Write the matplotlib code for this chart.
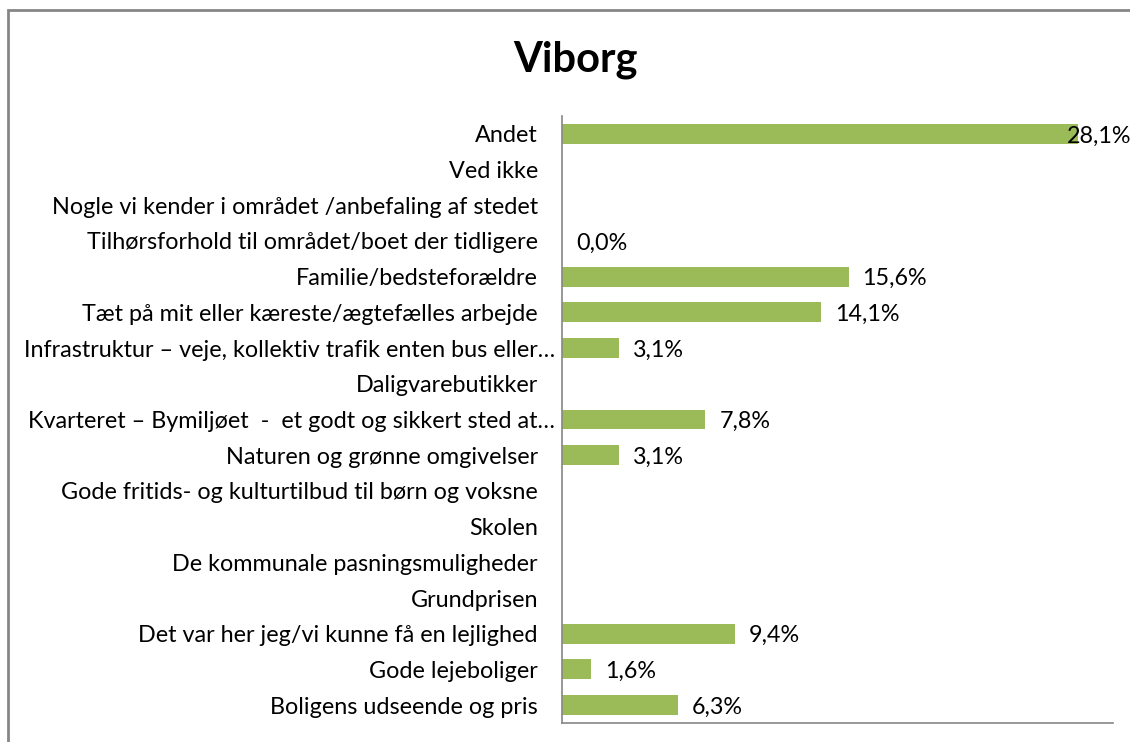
import matplotlib
matplotlib.use("Agg")
import matplotlib.pyplot as plt
from matplotlib.patches import Rectangle

plt.rcParams['font.family'] = ['Lato', 'DejaVu Sans']

categories = [
    "Andet",
    "Ved ikke",
    "Nogle vi kender i området /anbefaling af stedet",
    "Tilhørsforhold til området/boet der tidligere",
    "Familie/bedsteforældre",
    "Tæt på mit eller kæreste/ægtefælles arbejde",
    "Infrastruktur – veje, kollektiv trafik enten bus eller…",
    "Daligvarebutikker",
    "Kvarteret – Bymiljøet  -  et godt og sikkert sted at…",
    "Naturen og grønne omgivelser",
    "Gode fritids- og kulturtilbud til børn og voksne",
    "Skolen",
    "De kommunale pasningsmuligheder",
    "Grundprisen",
    "Det var her jeg/vi kunne få en lejlighed",
    "Gode lejeboliger",
    "Boligens udseende og pris",
]
values = [28.1, None, None, 0.0, 15.6, 14.1, 3.1, None, 7.8, 3.1,
          None, None, None, None, 9.4, 1.6, 6.3]

green = "#9BBB59"

fig = plt.figure(figsize=(11.30, 7.42), dpi=100)
ax_w = 1113 - 562
ax = fig.add_axes([562/1130, 1-723/742, ax_w/1130, (723-116)/742])

ypos = list(range(len(categories)))
for y, v in zip(ypos, values):
    if v is None:
        continue
    ax.barh(y, v, height=0.56, color=green, edgecolor="none")
    txt = f"{v:.1f}%".replace(".", ",")
    off = 14 if v < 27 else -11
    ax.annotate(txt, (v, y), xytext=(off, 0), textcoords="offset pixels",
                ha="left", va="center_baseline", fontsize=16.8, color="black",
                annotation_clip=False)

# category labels; the truncated ones sit closer to the axis like in Excel
for y, c in zip(ypos, categories):
    gap = 7 if c.endswith("…") else 24
    ax.text(-gap/ax_w, y, c, transform=ax.get_yaxis_transform(),
            ha="right", va="center_baseline", fontsize=16.8, color="black")

ax.set_xlim(0, 30)
ax.set_ylim(len(categories) - 0.5, -0.5)
ax.set_yticks([])
ax.set_xticks([])
for s in ["top", "right"]:
    ax.spines[s].set_visible(False)
for s in ["left", "bottom"]:
    ax.spines[s].set_color("#868686")
    ax.spines[s].set_linewidth(1.2)

fig.text(575/1130, 1-60/742, "Viborg", ha="center", va="center",
         fontsize=30, fontweight="bold")

fig.patches.append(Rectangle((8/1130, -0.05), 1.1, 1-10/742+0.05,
                             transform=fig.transFigure, fill=False,
                             edgecolor="#868686", linewidth=2))

fig.savefig("out.png", dpi=100)
